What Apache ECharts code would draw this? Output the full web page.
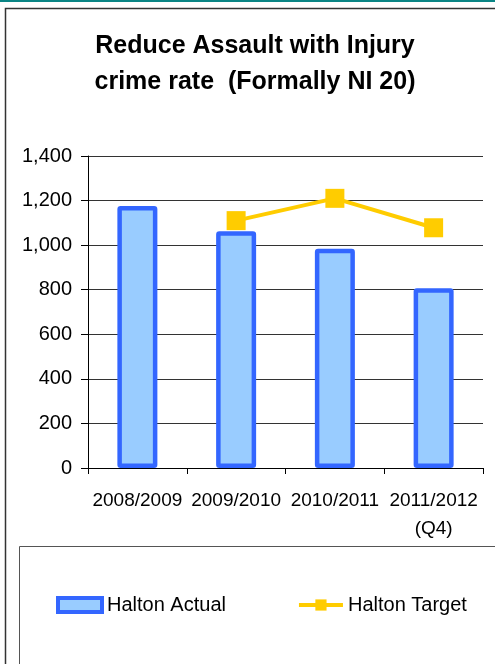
<!DOCTYPE html>
<html>
<head>
<meta charset="utf-8">
<script src="https://cdn.jsdelivr.net/npm/echarts@6/dist/echarts.min.js"></script>
<style>
html,body{margin:0;padding:0;background:#fff;}
#c{width:495px;height:664px;}
</style>
</head>
<body>
<div id="c"></div>
<script>
var titleText = 'Reduce Assault with Injury\ncrime rate  (Formally NI 20)';
var categories = ['2008/2009', '2009/2010', '2010/2011', '2011/2012\n(Q4)'];
var actualValues = [1176, 1062, 984, 807];
var targetValues = [null, 1110, 1210, 1078];
var yTicks = [0, 200, 400, 600, 800, 1000, 1200, 1400];

var chart = echarts.init(document.getElementById('c'), null, {renderer: 'canvas'});
var font = 'Liberation Sans, Arial, sans-serif';
chart.setOption({
  animation: false,
  backgroundColor: '#fff',
  textStyle: {fontFamily: font},
  title: {
    text: titleText,
    left: 255,
    textAlign: 'center',
    top: 28,
    padding: 0,
    textStyle: {fontFamily: font, fontSize: 25, fontWeight: 'bold', color: '#000', lineHeight: 36}
  },
  graphic: [
    {type: 'rect', shape: {x: 0, y: 0, width: 495, height: 2}, style: {fill: '#0a8585'}, silent: true},
    {type: 'rect', shape: {x: 5.5, y: 8.5, width: 520, height: 700}, style: {fill: 'none', stroke: '#333', lineWidth: 1.5}, silent: true, z: -1},
    {type: 'rect', shape: {x: 19.5, y: 546.5, width: 520, height: 200}, style: {fill: 'none', stroke: '#555', lineWidth: 1}, silent: true, z: -1}
  ],
  legend: {
    left: 56,
    top: 595,
    padding: 0,
    itemWidth: 44,
    itemHeight: 14,
    itemGap: 71,
    textStyle: {fontFamily: font, fontSize: 20, color: '#000'},
    data: [
      {name: 'Halton Actual', icon: 'rect', itemStyle: {color: '#99ccff', borderColor: '#3366ff', borderWidth: 4}},
      {name: 'Halton Target', lineStyle: {width: 4, color: '#ffcc00'}}
    ]
  },
  grid: {left: 88, right: 12, top: 156, bottom: 196, containLabel: false},
  xAxis: {
    type: 'category',
    data: categories,
    axisLine: {lineStyle: {color: '#000', width: 1}},
    axisTick: {show: true, length: 6, alignWithLabel: false, lineStyle: {color: '#000'}},
    axisLabel: {fontFamily: font, fontSize: 19, color: '#000', margin: 19, lineHeight: 28, interval: 0}
  },
  yAxis: {
    type: 'value',
    min: 0,
    max: 1400,
    interval: 200,
    axisLine: {show: true, lineStyle: {color: '#000', width: 1}},
    axisTick: {show: true, length: 7, lineStyle: {color: '#000'}},
    splitLine: {lineStyle: {color: '#333', width: 1}},
    axisLabel: {
      fontFamily: font, fontSize: 20, color: '#000', margin: 16,
      formatter: function (v) { return yTicks.indexOf(v) >= 0 ? v.toLocaleString('en-US') : ''; }
    }
  },
  series: [
    {
      name: 'Halton Actual',
      type: 'bar',
      data: actualValues,
      barWidth: 40,
      itemStyle: {color: '#99ccff', borderColor: '#3366ff', borderWidth: 4.5, borderRadius: 1}
    },
    {
      name: 'Halton Target',
      type: 'line',
      data: targetValues,
      symbol: 'rect',
      symbolSize: 19,
      lineStyle: {color: '#ffcc00', width: 4},
      itemStyle: {color: '#ffcc00'},
      z: 3
    }
  ]
});
</script>
</body>
</html>
